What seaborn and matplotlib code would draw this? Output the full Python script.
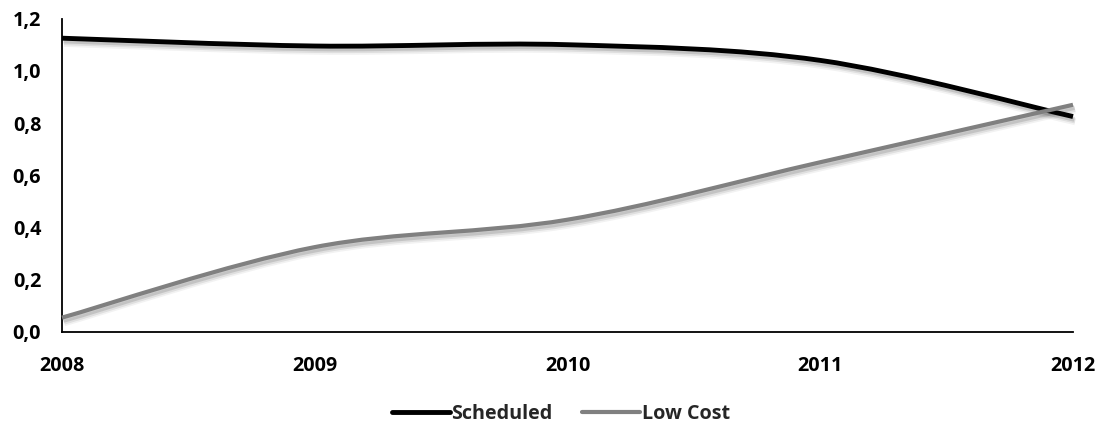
import numpy as np
import pandas as pd
import matplotlib
matplotlib.use("Agg")
import matplotlib.pyplot as plt
import matplotlib.patheffects as pe
from matplotlib.path import Path
from matplotlib.patches import PathPatch
from matplotlib.lines import Line2D
from matplotlib.ticker import FuncFormatter
import seaborn as sns

# Series values per year
years = [2008, 2009, 2010, 2011, 2012]
scheduled = [1.125, 1.095, 1.10, 1.04, 0.825]
low_cost = [0.055, 0.325, 0.43, 0.65, 0.87]
series_names = ["Scheduled", "Low Cost"]
series_colors = ["#000000", "#808080"]
y_ticks = [0.0, 0.2, 0.4, 0.6, 0.8, 1.0, 1.2]

df = pd.DataFrame({"year": years, "Scheduled": scheduled, "Low Cost": low_cost})

sns.set_theme(style="white")
plt.rcParams["font.family"] = ["Open Sans", "DejaVu Sans"]
plt.rcParams["font.weight"] = "bold"

FS = 14.2

fig = plt.figure(figsize=(11.05, 4.30), dpi=100)
ax = fig.add_axes([62 / 1105, 1 - 332 / 430, (1073 - 62) / 1105, (332 - 18.6) / 430])


def smooth_path(xs, ys):
    """Cubic Bezier path through the points (Catmull-Rom style control points)."""
    pts = np.column_stack([xs, ys]).astype(float)
    ext = np.vstack([pts[0], pts, pts[-1]])
    verts = [tuple(pts[0])]
    codes = [Path.MOVETO]
    for i in range(1, len(ext) - 2):
        p0, p1, p2, p3 = ext[i - 1], ext[i], ext[i + 1], ext[i + 2]
        c1 = p1 + (p2 - p0) / 6.0
        c2 = p2 - (p3 - p1) / 6.0
        verts += [tuple(c1), tuple(c2), tuple(p2)]
        codes += [Path.CURVE4] * 3
    return Path(verts, codes)


# soft drop shadow falling below and slightly right of each line
shadow = [
    pe.SimpleLineShadow(offset=(1.5, -4.0), shadow_color="black", alpha=0.05, linewidth=4.5),
    pe.SimpleLineShadow(offset=(1.5, -3.0), shadow_color="black", alpha=0.08, linewidth=4.0),
    pe.SimpleLineShadow(offset=(1.0, -2.0), shadow_color="black", alpha=0.12, linewidth=3.5),
    pe.Normal(),
]

widths = [3.5, 3.0]
for name, color, lw in zip(series_names, series_colors, widths):
    patch = PathPatch(smooth_path(df["year"], df[name]), facecolor="none",
                      edgecolor=color, linewidth=lw, capstyle="butt", zorder=3)
    patch.set_path_effects(shadow)
    patch.set_clip_on(False)
    ax.add_patch(patch)

ax.set_xlim(years[0], years[-1])
ax.set_ylim(0, 1.2)
ax.set_xticks(years)
ax.set_yticks(y_ticks)
ax.yaxis.set_major_formatter(FuncFormatter(lambda v, p: f"{v:.1f}".replace(".", ",")))
ax.tick_params(axis="both", length=0, labelsize=FS, colors="#000000")
ax.tick_params(axis="x", pad=17)
ax.tick_params(axis="y", pad=15)
for lab in ax.get_xticklabels() + ax.get_yticklabels():
    lab.set_fontweight("bold")

sns.despine(ax=ax)
for side in ["left", "bottom"]:
    ax.spines[side].set_color("#000000")
    ax.spines[side].set_linewidth(1.3)
ax.set_xlabel("")
ax.set_ylabel("")
ax.grid(False)

handles = [Line2D([0], [0], color=c, linewidth=lw) for c, lw in zip(series_colors, widths)]
fig.legend(handles, series_names, loc="center", bbox_to_anchor=(561 / 1105, 1 - 414 / 430),
           ncol=2, frameon=False, handlelength=2.9, handletextpad=0.1, columnspacing=1.5,
           prop={"weight": "bold", "size": FS})

fig.savefig("out.png", dpi=100, facecolor="white")
